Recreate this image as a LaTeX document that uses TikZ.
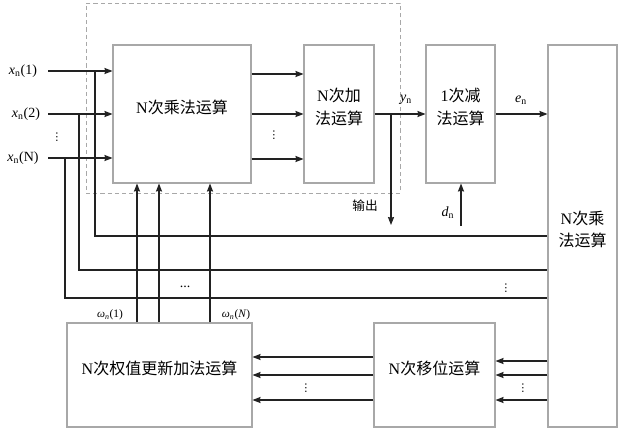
\documentclass[tikz,border=0pt]{standalone}
\usepackage{fontspec}
\setmainfont{Liberation Serif}
\newfontfamily\cjk{Noto Sans CJK SC}
\newfontfamily\dvs{DejaVu Sans}
\usetikzlibrary{arrows.meta,fit}
\definecolor{boxgray}{HTML}{A8A8A8}
\definecolor{linec}{HTML}{222222}
\begin{document}
\begin{tikzpicture}[x=0.75pt,y=-0.75pt,
  box/.style={draw=boxgray, line width=0.8pt, inner sep=0pt, font=\fontsize{12}{17}\selectfont, align=center},
  arr/.style={-{Stealth[length=6pt,width=4.6pt,inset=0.6pt]}, line width=0.8pt, draw=linec},
  ln/.style={line width=0.8pt, draw=linec},
  lbl/.style={font=\fontsize{10.5}{12}\selectfont, inner sep=0pt},
  slbl/.style={font=\fontsize{8.5}{10}\selectfont, inner sep=0pt},
  vdots/.style={font=\dvs\fontsize{8}{9}\selectfont, inner sep=0pt}]
\useasboundingbox (0,0) rectangle (623,432);
% dashed frame
\node[draw=boxgray, dashed, dash pattern=on 3.2pt off 2.2pt, line width=0.7pt, inner sep=0pt, fit={(86,3)(400,193)}] (frame) {};
% boxes
\node[box, fit={(113,45)(251,183)}] (mul) {N{\cjk 次乘法运算}};
\node[box, fit={(304,45)(374,183)}] (add) {N{\cjk 次加}\\{\cjk 法运算}};
\node[box, fit={(426,45)(495,183)}] (sub) {1{\cjk 次减}\\{\cjk 法运算}};
\node[box, fit={(548,45)(617,427)}] (rmul) {N{\cjk 次乘}\\{\cjk 法运算}};
\node[box, fit={(67,323)(252,427)}] (wup) {N{\cjk 次权值更新加法运算}};
\node[box, fit={(374,323)(495,427)}] (shift) {N{\cjk 次移位运算}};
% input labels
\node[lbl] (x1) at (23,71) {\textit{x}\textsubscript{n}(1)};
\node[lbl] (x2) at (26,114) {\textit{x}\textsubscript{n}(2)};
\node[lbl] (xN) at (23,158) {\textit{x}\textsubscript{n}(N)};
\node[vdots] (d1) at (57,137) {⋮};
\coordinate (s1) at (48,71);
\coordinate (s2) at (48,114);
\coordinate (s3) at (48,158);
\draw[arr] (s1) -- (mul.west |- s1);
\draw[arr] (s2) -- (mul.west |- s2);
\draw[arr] (s3) -- (mul.west |- s3);
% taps to right multiplier
\coordinate (t1) at (95,71);
\coordinate (t2) at (79,114);
\coordinate (t3) at (65,158);
\draw[ln] (t1) |- (rmul.west |- 0,236);
\draw[ln] (t2) |- (rmul.west |- 0,270);
\draw[ln] (t3) |- (rmul.west |- 0,298);
\node[vdots] (d2) at (506,288) {⋮};
% multiplier to adder
\draw[arr] (mul.east |- 0,74) -- (add.west |- 0,74);
\draw[arr] (mul.east |- 0,114) -- (add.west |- 0,114);
\draw[arr] (mul.east |- 0,159) -- (add.west |- 0,159);
\node[vdots] (d3) at (274,135) {⋮};
% adder to subtractor
\draw[arr] (add.east |- 0,114) -- (sub.west |- 0,114);
\node[lbl] (yn) at (406,100) {\textit{y}\textsubscript{n}};
\coordinate (br) at (391,114);
\coordinate (outend) at (391,225);
\draw[arr] (br) -- (outend);
\node[lbl] (out) at (365,206) {\cjk\fontsize{9.5}{11}\selectfont 输出};
% subtractor to right multiplier
\draw[arr] (sub.east |- 0,114) -- (rmul.west |- 0,114);
\node[lbl] (en) at (521,100) {\textit{e}\textsubscript{n}};
% d_n
\coordinate (dstart) at (461,226);
\draw[arr] (dstart) -- (sub.south -| dstart);
\node[lbl] (dn) at (448,213) {\textit{d}\textsubscript{n}};
% weights up to multiplier
\draw[arr] (wup.north -| 137,0) -- (mul.south -| 137,0);
\draw[arr] (wup.north -| 159,0) -- (mul.south -| 159,0);
\draw[arr] (wup.north -| 210,0) -- (mul.south -| 210,0);
\node[slbl] (w1) at (110,315) {\textit{ω}\textsubscript{\textit{n}}(1)};
\node[slbl] (wN) at (236,315) {\textit{ω}\textsubscript{\textit{n}}(\textit{N})};
\node[lbl] (d4) at (185,287) {...};
% shift to weight update
\draw[arr] (shift.west |- 0,357) -- (wup.east |- 0,357);
\draw[arr] (shift.west |- 0,375) -- (wup.east |- 0,375);
\draw[arr] (shift.west |- 0,400) -- (wup.east |- 0,400);
\node[vdots] (d5) at (306,388) {⋮};
% right multiplier to shift
\draw[arr] (rmul.west |- 0,361) -- (shift.east |- 0,361);
\draw[arr] (rmul.west |- 0,375) -- (shift.east |- 0,375);
\draw[arr] (rmul.west |- 0,400) -- (shift.east |- 0,400);
\node[vdots] (d6) at (523,388) {⋮};
\end{tikzpicture}
\end{document}
